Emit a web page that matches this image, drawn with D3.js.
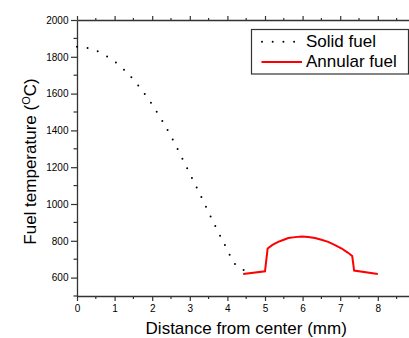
<!DOCTYPE html>
<html>
<head>
<meta charset="utf-8">
<script src="https://cdn.jsdelivr.net/npm/d3@7"></script>
<style>
  html, body { margin: 0; padding: 0; background: #fff; }
  svg { display: block; }
  text { font-family: "Liberation Sans", Arial, Helvetica, sans-serif; fill: #000; }
</style>
</head>
<body>
<svg id="chart" width="409" height="338"></svg>
<script>
// Solid fuel (dotted)
const solidX = [0, 0.25, 0.5, 0.75, 1, 1.25, 1.5, 1.75, 2, 2.25, 2.5, 2.75, 3, 3.25, 3.5, 3.75, 4, 4.15, 4.3, 4.45, 4.6];
const solidT = [1855, 1849, 1834, 1808, 1774, 1730, 1676, 1612, 1540, 1458, 1368, 1268, 1165, 1062, 955, 850, 750, 688, 654, 640, 635];
// Annular fuel (red)
const annX = [4.42, 5.0, 5.07, 5.2, 5.35, 5.5, 5.62, 5.8, 5.98, 6.15, 6.33, 6.5, 6.68, 6.85, 7.04, 7.2, 7.32, 7.37, 8.0];
const annT = [620, 634, 758, 778, 794, 806, 815, 820, 823, 821, 815, 806, 794, 778, 758, 736, 717, 638, 620];
// Ticks
const xTicks = [0, 1, 2, 3, 4, 5, 6, 7, 8];
const yTicks = [600, 800, 1000, 1200, 1400, 1600, 1800, 2000];
const legendLabels = ["Solid fuel", "Annular fuel"];

const svg = d3.select("#chart");
const mLeft = 77, mTop = 20, mBottom = 296;
const x = d3.scaleLinear().domain([0, 9]).range([mLeft, mLeft + 9 * 37.6]);
const y = d3.scaleLinear().domain([500, 2000]).range([mBottom, mTop]);

const axisColor = "#333";
const tickFont = "10px";

// minor ticks
const xMinor = d3.range(0, 9.01, 0.5).filter(v => Math.abs(v - Math.round(v)) > 0.01);
const yMinor = d3.range(500, 2001, 100).filter(v => v % 200 !== 0);

// bottom axis
const gx = svg.append("g").attr("transform", `translate(0,${mBottom})`)
  .call(d3.axisBottom(x).tickValues(xTicks).tickFormat(d3.format("d")).tickSize(5).tickPadding(4).tickSizeOuter(0));
gx.append("g").selectAll("line").data(xMinor).join("line")
  .attr("x1", d => x(d)).attr("x2", d => x(d)).attr("y1", 0).attr("y2", 3);
// top axis
const gt = svg.append("g").attr("transform", `translate(0,${mTop})`)
  .call(d3.axisTop(x).tickValues(xTicks).tickFormat("").tickSize(4).tickSizeOuter(0));
gt.append("g").selectAll("line").data(xMinor).join("line")
  .attr("x1", d => x(d)).attr("x2", d => x(d)).attr("y1", 0).attr("y2", -2);
// left axis
const gy = svg.append("g").attr("transform", `translate(${mLeft},0)`)
  .call(d3.axisLeft(y).tickValues(yTicks).tickFormat(d3.format("d")).tickSize(6).tickPadding(2.5).tickSizeOuter(0));
gy.append("g").selectAll("line").data(yMinor).join("line")
  .attr("x1", 0).attr("x2", -3.5).attr("y1", d => y(d)).attr("y2", d => y(d));

[gx, gt, gy].forEach(g => {
  g.select(".domain").attr("stroke", axisColor).attr("stroke-width", 1.3);
  g.selectAll("line").attr("stroke", axisColor).attr("stroke-width", 1.2);
  g.selectAll("text").style("font-size", tickFont).attr("fill", "#000");
});

// Solid line (dotted)
const solidData = solidX.map((d, i) => [d, solidT[i]]);
svg.append("path").datum(solidData)
  .attr("fill", "none").attr("stroke", "#000").attr("stroke-width", 2)
  .attr("stroke-linecap", "round").attr("stroke-dasharray", "0,10.7")
  .attr("d", d3.line().x(d => x(d[0])).y(d => y(d[1])).curve(d3.curveMonotoneX));

// Annular line
const annData = annX.map((d, i) => [d, annT[i]]);
svg.append("path").datum(annData)
  .attr("fill", "none").attr("stroke", "#ff0000").attr("stroke-width", 2)
  .attr("stroke-linejoin", "miter")
  .attr("d", d3.line().x(d => x(d[0])).y(d => y(d[1])));

// Legend
const lg = svg.append("g");
lg.append("rect").attr("x", 251.5).attr("y", 29.5).attr("width", 157).attr("height", 44.5)
  .attr("fill", "#fff").attr("stroke", axisColor).attr("stroke-width", 1.2);
lg.append("line").attr("x1", 262).attr("x2", 297).attr("y1", 41.7).attr("y2", 41.7)
  .attr("stroke", "#000").attr("stroke-width", 2).attr("stroke-linecap", "round").attr("stroke-dasharray", "0,10.7");
lg.append("line").attr("x1", 261.5).attr("x2", 302).attr("y1", 62).attr("y2", 62)
  .attr("stroke", "#ff0000").attr("stroke-width", 2);
lg.selectAll("text").data(legendLabels).join("text")
  .attr("x", 306).attr("y", (d, i) => 47 + i * 20)
  .style("font-size", "17px").text(d => d);

// Axis titles
svg.append("text").attr("x", x(4.5)).attr("y", 333.5).attr("text-anchor", "middle")
  .style("font-size", "17px").text("Distance from center (mm)");

const yt = svg.append("text").attr("transform", "translate(35.5,161.5) rotate(-90)")
  .attr("text-anchor", "middle").style("font-size", "17px");
yt.append("tspan").text("Fuel temperature (");
yt.append("tspan").attr("dy", -6).style("font-size", "11px").text("O");
yt.append("tspan").attr("dy", 6).text("C)");
</script>
</body>
</html>
